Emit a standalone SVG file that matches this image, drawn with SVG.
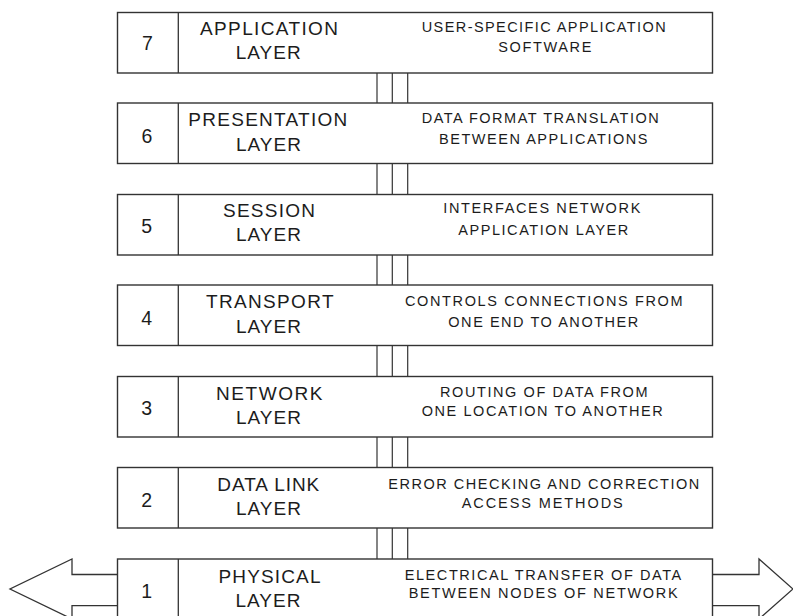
<svg xmlns="http://www.w3.org/2000/svg" width="793" height="616" viewBox="0 0 793 616">
<style>
.box{fill:#fff;stroke:#333;stroke-width:1.4}
.div{stroke:#333;stroke-width:1.3}
.conn line{stroke:#333;stroke-width:1.2}
.arrow{fill:#fff;stroke:#333;stroke-width:1.3;stroke-linejoin:miter}
text{font-family:"Liberation Sans",Arial,sans-serif;fill:#1c1c1c}
.num{font-size:19.5px;text-anchor:middle}
.name{font-size:19px}
.desc{font-size:14.5px}
</style>
<rect width="793" height="616" fill="#fff"/>
<g id="connectors" class="conn">
<line x1="377" y1="73" x2="377" y2="103"/><line x1="392.3" y1="73" x2="392.3" y2="103"/><line x1="407.7" y1="73" x2="407.7" y2="103"/>
<line x1="377" y1="163.5" x2="377" y2="194.5"/><line x1="392.3" y1="163.5" x2="392.3" y2="194.5"/><line x1="407.7" y1="163.5" x2="407.7" y2="194.5"/>
<line x1="377" y1="255" x2="377" y2="285"/><line x1="392.3" y1="255" x2="392.3" y2="285"/><line x1="407.7" y1="255" x2="407.7" y2="285"/>
<line x1="377" y1="345.5" x2="377" y2="376.5"/><line x1="392.3" y1="345.5" x2="392.3" y2="376.5"/><line x1="407.7" y1="345.5" x2="407.7" y2="376.5"/>
<line x1="377" y1="437" x2="377" y2="467.5"/><line x1="392.3" y1="437" x2="392.3" y2="467.5"/><line x1="407.7" y1="437" x2="407.7" y2="467.5"/>
<line x1="377" y1="528" x2="377" y2="559"/><line x1="392.3" y1="528" x2="392.3" y2="559"/><line x1="407.7" y1="528" x2="407.7" y2="559"/>
</g>
<g id="io-arrows">
<polyline class="arrow" points="117,574.5 72,574.5 72,559 10,589 72,619 72,605.7 117,605.7"/>
<polyline class="arrow" points="713,574.5 759,574.5 759,559 793,589 759,619 759,605.7 713,605.7"/>
</g>
<g id="layer7">
<rect class="box" x="117.5" y="12.5" width="595" height="60.5"/>
<line class="div" x1="178.3" y1="12.5" x2="178.3" y2="73"/>
<text class="num" x="147.5" y="50">7</text>
<text class="name" x="200" y="35" textLength="138" lengthAdjust="spacing">APPLICATION</text>
<text class="name" x="235.7" y="59.3" textLength="65" lengthAdjust="spacing">LAYER</text>
<text class="desc" x="421.7" y="31.7" textLength="244" lengthAdjust="spacing">USER-SPECIFIC APPLICATION</text>
<text class="desc" x="498.3" y="51.7" textLength="93" lengthAdjust="spacing">SOFTWARE</text>
</g>
<g id="layer6">
<rect class="box" x="117.5" y="103" width="595" height="60.5"/>
<line class="div" x1="178.3" y1="103" x2="178.3" y2="163.5"/>
<text class="num" x="147" y="143.3">6</text>
<text class="name" x="188.3" y="126" textLength="159" lengthAdjust="spacing">PRESENTATION</text>
<text class="name" x="236" y="150.7" textLength="65" lengthAdjust="spacing">LAYER</text>
<text class="desc" x="421.7" y="123.3" textLength="237" lengthAdjust="spacing">DATA FORMAT TRANSLATION</text>
<text class="desc" x="439" y="144" textLength="208.5" lengthAdjust="spacing">BETWEEN APPLICATIONS</text>
</g>
<g id="layer5">
<rect class="box" x="117.5" y="194.5" width="595" height="60.5"/>
<line class="div" x1="178.3" y1="194.5" x2="178.3" y2="255"/>
<text class="num" x="146.7" y="232.7">5</text>
<text class="name" x="223" y="217.3" textLength="92" lengthAdjust="spacing">SESSION</text>
<text class="name" x="236" y="241" textLength="65" lengthAdjust="spacing">LAYER</text>
<text class="desc" x="443.3" y="213.3" textLength="197" lengthAdjust="spacing">INTERFACES NETWORK</text>
<text class="desc" x="458.3" y="235" textLength="170" lengthAdjust="spacing">APPLICATION LAYER</text>
</g>
<g id="layer4">
<rect class="box" x="117.5" y="285" width="595" height="60.5"/>
<line class="div" x1="178.3" y1="285" x2="178.3" y2="345.5"/>
<text class="num" x="146.7" y="325">4</text>
<text class="name" x="206" y="308.3" textLength="127.5" lengthAdjust="spacing">TRANSPORT</text>
<text class="name" x="236" y="332.7" textLength="65" lengthAdjust="spacing">LAYER</text>
<text class="desc" x="405" y="306" textLength="277.5" lengthAdjust="spacing">CONTROLS CONNECTIONS FROM</text>
<text class="desc" x="448.3" y="327" textLength="190" lengthAdjust="spacing">ONE END TO ANOTHER</text>
</g>
<g id="layer3">
<rect class="box" x="117.5" y="376.5" width="595" height="60.5"/>
<line class="div" x1="178.3" y1="376.5" x2="178.3" y2="437"/>
<text class="num" x="146.7" y="415.3">3</text>
<text class="name" x="216" y="399.7" textLength="106.5" lengthAdjust="spacing">NETWORK</text>
<text class="name" x="236" y="423.7" textLength="65" lengthAdjust="spacing">LAYER</text>
<text class="desc" x="440" y="397" textLength="207.5" lengthAdjust="spacing">ROUTING OF DATA FROM</text>
<text class="desc" x="421.7" y="416.3" textLength="241" lengthAdjust="spacing">ONE LOCATION TO ANOTHER</text>
</g>
<g id="layer2">
<rect class="box" x="117.5" y="467.5" width="595" height="60.5"/>
<line class="div" x1="178.3" y1="467.5" x2="178.3" y2="528"/>
<text class="num" x="146.7" y="507">2</text>
<text class="name" x="217.3" y="491" textLength="102" lengthAdjust="spacing">DATA LINK</text>
<text class="name" x="236" y="515.3" textLength="65" lengthAdjust="spacing">LAYER</text>
<text class="desc" x="388.3" y="489" textLength="311" lengthAdjust="spacing">ERROR CHECKING AND CORRECTION</text>
<text class="desc" x="461.7" y="508" textLength="161" lengthAdjust="spacing">ACCESS METHODS</text>
</g>
<g id="layer1">
<rect class="box" x="117.5" y="559" width="595" height="62"/>
<line class="div" x1="178.3" y1="559" x2="178.3" y2="621"/>
<text class="num" x="146.7" y="597.7">1</text>
<text class="name" x="218.5" y="582.7" textLength="102" lengthAdjust="spacing">PHYSICAL</text>
<text class="name" x="235.5" y="607.3" textLength="65" lengthAdjust="spacing">LAYER</text>
<text class="desc" x="404.7" y="580" textLength="276.5" lengthAdjust="spacing">ELECTRICAL TRANSFER OF DATA</text>
<text class="desc" x="408.7" y="598.3" textLength="269" lengthAdjust="spacing">BETWEEN NODES OF NETWORK</text>
</g>
</svg>
